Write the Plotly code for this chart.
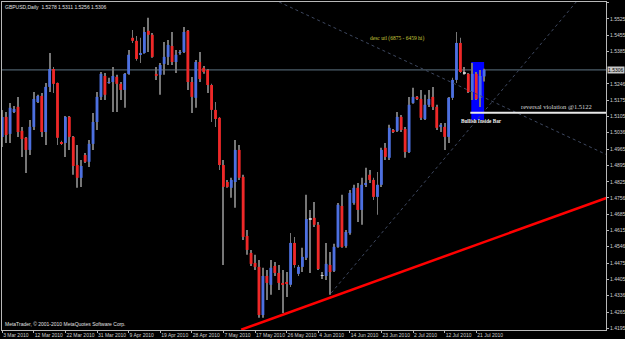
import plotly.graph_objects as go
import pandas as pd

# ---- data (GBPUSD daily, MetaTrader feed incl. Sunday bars) ----
bar_dates = [d for d in pd.date_range("2010-03-03", "2010-07-23", freq="D") if d.dayofweek != 5]

opens = [1.5018, 1.5104, 1.5031, 1.5125, 1.5147, 1.5044, 1.5014, 1.4962, 1.5061, 1.5168,
         1.5194, 1.5039, 1.5233, 1.5310, 1.5250, 1.4996, 1.4992, 1.5104, 1.5018, 1.4897,
         1.4842, 1.4940, 1.4911, 1.4988, 1.5082, 1.5190, 1.5280, 1.5250, 1.5254, 1.5276,
         1.5246, 1.5220, 1.5289, 1.5444, 1.5431, 1.5371, 1.5379, 1.5474, 1.5457, 1.5289,
         1.5285, 1.5332, 1.5362, 1.5409, 1.5340, 1.5379, 1.5383, 1.5474, 1.5254, 1.5186,
         1.5340, 1.5315, 1.5306, 1.5241, 1.5134, 1.5100, 1.4897, 1.4824, 1.4799, 1.4824,
         1.4962, 1.4846, 1.4592, 1.4519, 1.4476, 1.4459, 1.4252, 1.4420, 1.4382, 1.4463,
         1.4433, 1.4390, 1.4390, 1.4382, 1.4562, 1.4429, 1.4459, 1.4498, 1.4665, 1.4670,
         1.4640, 1.4420, 1.4420, 1.4467, 1.4442, 1.4545, 1.4721, 1.4549, 1.4605, 1.4734,
         1.4799, 1.4704, 1.4812, 1.4855, 1.4833, 1.4760, 1.4812, 1.4971, 1.4928, 1.5044,
         1.5044, 1.5104, 1.5052, 1.4953, 1.5164, 1.5190, 1.5181, 1.5095, 1.5156, 1.5190,
         1.5147, 1.5061, 1.5061, 1.5018, 1.5186, 1.5263, 1.5422, 1.5293, 1.5289, 1.5211,
         1.5289, 1.5186, 1.5278]
highs = [1.5134, 1.5125, 1.5164, 1.5151, 1.5190, 1.5061, 1.5018, 1.5091, 1.5211, 1.5199,
         1.5207, 1.5250, 1.5379, 1.5319, 1.5252, 1.5001, 1.5108, 1.5108, 1.5022, 1.4983,
         1.4919, 1.4949, 1.5005, 1.5121, 1.5211, 1.5297, 1.5293, 1.5272, 1.5319, 1.5285,
         1.5254, 1.5293, 1.5392, 1.5478, 1.5452, 1.5444, 1.5491, 1.5530, 1.5465, 1.5319,
         1.5336, 1.5426, 1.5435, 1.5469, 1.5392, 1.5392, 1.5491, 1.5478, 1.5276, 1.5349,
         1.5383, 1.5323, 1.5310, 1.5246, 1.5168, 1.5104, 1.4919, 1.4833, 1.4842, 1.5005,
         1.4983, 1.4855, 1.4618, 1.4532, 1.4511, 1.4489, 1.4455, 1.4446, 1.4489, 1.4480,
         1.4467, 1.4446, 1.4437, 1.4605, 1.4588, 1.4467, 1.4541, 1.4769, 1.4704, 1.4738,
         1.4652, 1.4437, 1.4562, 1.4523, 1.4558, 1.4734, 1.4769, 1.4618, 1.4790, 1.4812,
         1.4820, 1.4842, 1.4885, 1.4876, 1.4842, 1.4867, 1.4971, 1.4992, 1.5070, 1.5052,
         1.5125, 1.5112, 1.5061, 1.5190, 1.5229, 1.5194, 1.5220, 1.5199, 1.5220, 1.5233,
         1.5156, 1.5078, 1.5078, 1.5190, 1.5272, 1.5469, 1.5444, 1.5319, 1.5293, 1.5336,
         1.5297, 1.5306, 1.5311]
lows = [1.4975, 1.4992, 1.4992, 1.5121, 1.5018, 1.4932, 1.4863, 1.4940, 1.5048, 1.5164,
        1.5018, 1.4983, 1.5211, 1.5207, 1.4983, 1.4983, 1.4932, 1.4962, 1.4855, 1.4799,
        1.4803, 1.4906, 1.4889, 1.4962, 1.5048, 1.5177, 1.5177, 1.5246, 1.5125, 1.5125,
        1.5177, 1.5143, 1.5285, 1.5422, 1.5345, 1.5336, 1.5375, 1.5383, 1.5358, 1.5263,
        1.5199, 1.5285, 1.5327, 1.5327, 1.5293, 1.5371, 1.5379, 1.5220, 1.5121, 1.5143,
        1.5254, 1.5289, 1.5207, 1.5082, 1.5061, 1.4876, 1.4467, 1.4799, 1.4756, 1.4713,
        1.4833, 1.4575, 1.4511, 1.4463, 1.4446, 1.4240, 1.4240, 1.4317, 1.4339, 1.4420,
        1.4360, 1.4261, 1.4330, 1.4373, 1.4455, 1.4420, 1.4437, 1.4489, 1.4433, 1.4631,
        1.4446, 1.4407, 1.4403, 1.4339, 1.4437, 1.4541, 1.4541, 1.4541, 1.4597, 1.4726,
        1.4652, 1.4640, 1.4803, 1.4820, 1.4747, 1.4683, 1.4803, 1.4919, 1.4919, 1.5035,
        1.5039, 1.5039, 1.4928, 1.4949, 1.5160, 1.5177, 1.5091, 1.5091, 1.5147, 1.5134,
        1.5048, 1.5039, 1.4962, 1.4992, 1.5177, 1.5250, 1.5293, 1.5285, 1.5207, 1.5177,
        1.5177, 1.5147, 1.5256]
closes = [1.5104, 1.5026, 1.5143, 1.5138, 1.5039, 1.5009, 1.4962, 1.5061, 1.5181, 1.5194,
          1.5039, 1.5233, 1.5310, 1.5246, 1.5014, 1.4988, 1.5104, 1.5018, 1.4893, 1.4842,
          1.4893, 1.4911, 1.4988, 1.5082, 1.5190, 1.5289, 1.5199, 1.5254, 1.5280, 1.5246,
          1.5220, 1.5289, 1.5371, 1.5431, 1.5353, 1.5379, 1.5469, 1.5457, 1.5362, 1.5280,
          1.5327, 1.5362, 1.5413, 1.5340, 1.5371, 1.5383, 1.5469, 1.5254, 1.5190, 1.5340,
          1.5267, 1.5297, 1.5241, 1.5134, 1.5095, 1.4897, 1.4803, 1.4803, 1.4833, 1.4962,
          1.4842, 1.4588, 1.4532, 1.4472, 1.4459, 1.4252, 1.4420, 1.4390, 1.4455, 1.4433,
          1.4390, 1.4382, 1.4386, 1.4562, 1.4467, 1.4459, 1.4502, 1.4665, 1.4663, 1.4640,
          1.4450, 1.4421, 1.4472, 1.4437, 1.4545, 1.4726, 1.4545, 1.4609, 1.4777, 1.4799,
          1.4704, 1.4812, 1.4820, 1.4833, 1.4760, 1.4812, 1.4962, 1.4932, 1.5057, 1.5039,
          1.5104, 1.5048, 1.4953, 1.5156, 1.5190, 1.5181, 1.5100, 1.5156, 1.5181, 1.5147,
          1.5057, 1.5070, 1.5018, 1.5186, 1.5263, 1.5422, 1.5297, 1.5291, 1.5211, 1.5289,
          1.5181, 1.5280, 1.5306]

price_ticks = [1.5595, 1.5525, 1.5455, 1.5385, 1.5246, 1.5175, 1.5105, 1.5036, 1.4965, 1.4895,
               1.4825, 1.4756, 1.4685, 1.4615, 1.4546, 1.4475, 1.4405, 1.4336, 1.4265, 1.4195]
date_label_every = 8

last_price = 1.5306
reversal_level = 1.5122
# drawn objects: anchors in (bar index, price)
red_trend_x = [60.5, 153.2]
red_trend_p = [1.4189, 1.4757]
desc_trend_x = [70.1, 153.2]
desc_trend_p = [1.5598, 1.4940]
asc_trend_x = [83.3, 145.3]
asc_trend_p = [1.4347, 1.5598]
inside_box_x = [118.75, 122.0]
inside_box_p = [1.5091, 1.5340]
reversal_x_start = 118.5

title_text = "GBPUSD,Daily  1.5278 1.5311 1.5256 1.5306"
footer_text = "MetaTrader, \u00a9 2001-2010 MetaQuotes Software Corp."

# ---- build ----
n = len(bar_dates)
idx = list(range(n))
BULL, BEAR, DOJI = "#4d70e0", "#ee2828", "#d0d0d0"
WICK = "#767676"

bases, heights, colors = [], [], []
for o, c in zip(opens, closes):
    bases.append(min(o, c))
    heights.append(max(abs(c - o), 0.0004))
    if abs(c - o) < 0.0003:
        colors.append(DOJI)
    elif c > o:
        colors.append(BULL)
    else:
        colors.append(BEAR)

wick_len = [h - l for h, l in zip(highs, lows)]

fig = go.Figure()
fig.add_trace(go.Bar(x=idx, y=wick_len, base=lows, width=0.22,
                     marker=dict(color=WICK, line=dict(width=0)), hoverinfo="skip"))
fig.add_trace(go.Bar(x=idx, y=heights, base=bases, width=0.72,
                     marker=dict(color=colors, line=dict(width=0))))

tick_idx = idx[::date_label_every]
tick_txt = [f"{bar_dates[i].day} {bar_dates[i].strftime('%b %Y')}" for i in tick_idx]

x_range = [-0.05, 152.85]
axis_font = dict(family="Liberation Sans", size=5, color="#d0d0d0")
fig.update_layout(
    width=625, height=339,
    margin=dict(l=2, r=19, t=2, b=9),
    paper_bgcolor="#000000", plot_bgcolor="#000000",
    showlegend=False, barmode="overlay",
    xaxis=dict(range=x_range, tickvals=tick_idx, ticktext=tick_txt, tickangle=0,
               ticks="outside", ticklen=2, tickcolor="#b8b8b8",
               ticklabelposition="outside right", tickfont=axis_font,
               showgrid=False, zeroline=False, showline=True, linecolor="#b8b8b8",
               linewidth=1, mirror=True, automargin=False),
    yaxis=dict(side="right", range=[1.41876, 1.55980], tickvals=price_ticks,
               ticktext=[f"{v:.4f}" for v in price_ticks],
               ticks="outside", ticklen=2, tickcolor="#b8b8b8", tickfont=axis_font,
               showgrid=False, zeroline=False, showline=True, linecolor="#b8b8b8",
               linewidth=1, mirror=True, automargin=False),
)

shapes = [
    dict(type="rect", xref="x", yref="y", x0=inside_box_x[0], x1=inside_box_x[1],
         y0=inside_box_p[0], y1=inside_box_p[1], fillcolor="#0000ff",
         line=dict(width=0), layer="below"),
    dict(type="line", xref="paper", yref="y", x0=0, x1=1, y0=last_price, y1=last_price,
         line=dict(color="#5f7585", width=1), layer="below"),
    dict(type="line", xref="x", yref="y", x0=red_trend_x[0], x1=red_trend_x[1],
         y0=red_trend_p[0], y1=red_trend_p[1], line=dict(color="#ff0000", width=2.5)),
    dict(type="line", xref="x", yref="y", x0=desc_trend_x[0], x1=desc_trend_x[1],
         y0=desc_trend_p[0], y1=desc_trend_p[1], line=dict(color="#3e4860", width=1, dash="dot")),
    dict(type="line", xref="x", yref="y", x0=asc_trend_x[0], x1=asc_trend_x[1],
         y0=asc_trend_p[0], y1=asc_trend_p[1], line=dict(color="#3e4860", width=1, dash="dot")),
    dict(type="line", xref="x", yref="y", x0=reversal_x_start, x1=x_range[1],
         y0=reversal_level, y1=reversal_level, line=dict(color="#e8e8e8", width=2)),
]
fig.update_layout(shapes=shapes)

ann = [
    dict(xref="paper", yref="y", x=0, y=1.5578, xanchor="left", yanchor="middle", xshift=1,
         text=title_text, showarrow=False,
         font=dict(family="Liberation Sans", size=5, color="#e0e0e0")),
    dict(xref="paper", yref="y", x=0, y=1.4214, xanchor="left", yanchor="middle", xshift=1,
         text=footer_text, showarrow=False,
         font=dict(family="Liberation Sans", size=5, color="#e0e0e0")),
    dict(xref="x", yref="y", x=100, y=1.5443, text="desc utl (6875 - 6459 hi)", showarrow=False,
         font=dict(family="Liberation Serif", size=5.5, color="#c8c83c")),
    dict(xref="x", yref="y", x=130.9, y=1.5147, xanchor="left", text="reversal violation @1.5122",
         showarrow=False, font=dict(family="Liberation Serif", size=6.5, color="#d8d8d8")),
    dict(xref="x", yref="y", x=121.3, y=1.5087, text="<b>Bullish Inside Bar</b>", showarrow=False,
         font=dict(family="Liberation Serif", size=5.2, color="#f0f0f0")),
    dict(xref="paper", yref="y", x=1, y=last_price, xanchor="left", xshift=1,
         text=f"{last_price:.4f}", showarrow=False, bgcolor="#c8c8c8", borderpad=0,
         font=dict(family="Liberation Sans", size=5, color="#000000")),
]
fig.update_layout(annotations=ann)

fig.write_html("out.html")
